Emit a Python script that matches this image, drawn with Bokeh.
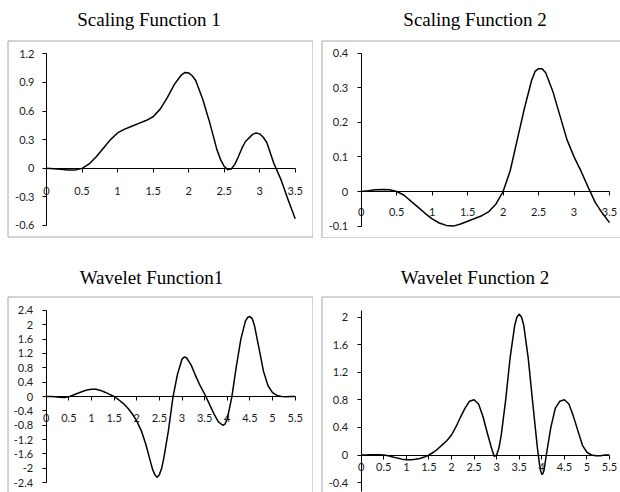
from bokeh.plotting import figure
from bokeh.layouts import column, row
from bokeh.models import FixedTicker, Label, BoxAnnotation
from bokeh.embed import file_html
from bokeh.resources import INLINE

# ---------------- data ----------------
titles = ["Scaling Function 1", "Scaling Function 2", "Wavelet Function1", "Wavelet Function 2"]

sf1_x = [0, 0.1, 0.2, 0.3, 0.4, 0.5, 0.6, 0.7, 0.8, 0.9, 1.0, 1.1, 1.2, 1.3, 1.4, 1.5, 1.6, 1.7,
         1.8, 1.85, 1.9, 1.95, 2.0, 2.05, 2.1, 2.2, 2.3, 2.4, 2.45, 2.5, 2.55, 2.6, 2.65, 2.7,
         2.75, 2.8, 2.9, 2.95, 3.0, 3.05, 3.1, 3.2, 3.3, 3.4, 3.5]
sf1_y = [0, -0.005, -0.012, -0.019, -0.02, -0.002, 0.045, 0.12, 0.21, 0.30, 0.37, 0.41, 0.44,
         0.47, 0.50, 0.54, 0.62, 0.74, 0.88, 0.93, 0.98, 1.005, 1.0, 0.97, 0.92, 0.72, 0.47,
         0.19, 0.09, 0.02, -0.015, -0.008, 0.04, 0.12, 0.21, 0.28, 0.355, 0.37, 0.36, 0.325,
         0.27, 0.05, -0.12, -0.33, -0.53]

sf2_x = [0, 0.1, 0.2, 0.3, 0.4, 0.5, 0.6, 0.7, 0.8, 0.9, 1.0, 1.1, 1.2, 1.3, 1.4, 1.5, 1.6, 1.7,
         1.8, 1.9, 2.0, 2.1, 2.2, 2.3, 2.4, 2.45, 2.5, 2.55, 2.6, 2.7, 2.8, 2.9, 3.0, 3.1, 3.2,
         3.3, 3.4, 3.5]
sf2_y = [0, 0.002, 0.005, 0.006, 0.005, 0.0, -0.01, -0.028, -0.045, -0.063, -0.079, -0.091,
         -0.098, -0.1, -0.094, -0.086, -0.078, -0.07, -0.058, -0.036, 0.0, 0.06, 0.15, 0.24,
         0.32, 0.347, 0.355, 0.355, 0.343, 0.29, 0.22, 0.15, 0.1, 0.058, 0.012, -0.032,
         -0.063, -0.09]

wf1_x = [0, 0.1, 0.2, 0.3, 0.4, 0.5, 0.6, 0.7, 0.8, 0.9, 1.0, 1.1, 1.2, 1.3, 1.4, 1.5, 1.6, 1.7,
         1.8, 1.9, 2.0, 2.1, 2.2, 2.3, 2.35, 2.4, 2.45, 2.5, 2.55, 2.6, 2.7, 2.8, 2.9, 3.0, 3.05,
         3.1, 3.2, 3.3, 3.4, 3.5, 3.6, 3.7, 3.8, 3.9, 3.95, 4.0, 4.1, 4.2, 4.3, 4.4, 4.45, 4.5,
         4.55, 4.6, 4.7, 4.8, 4.9, 5.0, 5.1, 5.2, 5.3, 5.4, 5.5]
wf1_y = [0, 0, -0.005, -0.02, -0.03, -0.01, 0.04, 0.09, 0.14, 0.18, 0.2, 0.2, 0.17, 0.12, 0.06,
         0.0, -0.09, -0.19, -0.32, -0.48, -0.68, -0.95, -1.33, -1.8, -2.03, -2.18, -2.25, -2.18,
         -2.0, -1.7, -0.95, -0.02, 0.62, 1.04, 1.1, 1.08, 0.88, 0.58, 0.3, 0.07, -0.2, -0.47,
         -0.7, -0.8, -0.77, -0.62, -0.02, 0.84, 1.6, 2.1, 2.2, 2.23, 2.17, 1.98, 1.35, 0.7, 0.3,
         0.11, 0.03, 0.0, -0.01, 0, 0]

wf2_x = [0, 0.1, 0.2, 0.3, 0.4, 0.5, 0.6, 0.7, 0.8, 0.9, 1.0, 1.1, 1.2, 1.3, 1.4, 1.5, 1.6, 1.7,
         1.8, 1.9, 2.0, 2.1, 2.2, 2.3, 2.4, 2.5, 2.6, 2.7, 2.8, 2.9, 2.95, 3.0, 3.05, 3.1, 3.2,
         3.3, 3.4, 3.45, 3.5, 3.55, 3.6, 3.7, 3.8, 3.9, 3.95, 3.975, 4.0, 4.025, 4.05, 4.1, 4.2,
         4.3, 4.4, 4.5, 4.6, 4.7, 4.8, 4.9, 5.0, 5.1, 5.2, 5.3, 5.4, 5.5]
wf2_y = [0, 0, 0.003, 0.005, 0.003, 0, -0.012, -0.028, -0.045, -0.06, -0.068, -0.068, -0.062,
         -0.05, -0.03, 0.0, 0.04, 0.09, 0.15, 0.21, 0.29, 0.41, 0.55, 0.68, 0.78, 0.8, 0.74,
         0.55, 0.3, 0.07, -0.02, 0.0, 0.1, 0.28, 0.8, 1.42, 1.88, 2.0, 2.04, 2.0, 1.88, 1.4,
         0.75, 0.12, -0.14, -0.23, -0.28, -0.27, -0.22, 0.0, 0.4, 0.68, 0.78, 0.8, 0.74, 0.56,
         0.35, 0.14, 0.04, 0.0, -0.01, -0.01, 0, 0]

sf_xticks = [0, 0.5, 1, 1.5, 2, 2.5, 3, 3.5]
sf_xlabels = ["0", "0.5", "1", "1.5", "2", "2.5", "3", "3.5"]
wf_xticks = [0, 0.5, 1, 1.5, 2, 2.5, 3, 3.5, 4, 4.5, 5, 5.5]
wf_xlabels = ["0", "0.5", "1", "1.5", "2", "2.5", "3", "3.5", "4", "4.5", "5", "5.5"]

sf1_yticks = [-0.6, -0.3, 0, 0.3, 0.6, 0.9, 1.2]
sf1_ylabels = ["-0.6", "-0.3", "0", "0.3", "0.6", "0.9", "1.2"]
sf2_yticks = [-0.1, 0, 0.1, 0.2, 0.3, 0.4]
sf2_ylabels = ["-0.1", "0", "0.1", "0.2", "0.3", "0.4"]
wf1_yticks = [-2.4, -2, -1.6, -1.2, -0.8, -0.4, 0, 0.4, 0.8, 1.2, 1.6, 2, 2.4]
wf1_ylabels = ["-2.4", "-2", "-1.6", "-1.2", "-0.8", "-0.4", "0", "0.4", "0.8", "1.2", "1.6",
               "2", "2.4"]
wf2_yticks = [-0.4, 0, 0.4, 0.8, 1.2, 1.6, 2]
wf2_ylabels = ["-0.4", "0", "0.4", "0.8", "1.2", "1.6", "2"]

TICK_FONT = "Lato"
TICK_SIZE = "11px"
TICK_COLOR = "#1a1a1a"
TITLE_FONT = "Liberation Serif"
TITLE_SIZE = "19px"
BOX_COLOR = "#a6a6a6"


def panel(title, xs, ys, xticks, xlabels, yticks, ylabels, xbounds, ybounds,
          width, height, origin_px, ppu, title_px, box_px, x_standoff, y_standoff):
    """origin_px / ppu / title_px / box_px are canvas-pixel layout settings."""
    ox, oy = origin_px
    ux, uy = ppu
    to_x = lambda px: (px - ox) / ux
    to_y = lambda py: (oy - py) / uy

    p = figure(width=width, height=height,
               x_range=(to_x(0), to_x(width)), y_range=(to_y(height), to_y(0)),
               output_backend="svg", toolbar_location=None,
               min_border_left=0, min_border_right=0, min_border_bottom=0,
               min_border_top=0)
    p.background_fill_color = "white"
    p.border_fill_color = "white"
    p.outline_line_color = None
    p.xgrid.visible = False
    p.ygrid.visible = False

    bl, bt, br, bb = box_px
    p.add_layout(BoxAnnotation(left=to_x(bl), right=to_x(br), top=to_y(bt), bottom=to_y(bb),
                               fill_color=None, fill_alpha=0, line_color=BOX_COLOR,
                               line_alpha=1.0, line_width=1, level="underlay"))

    for ax, ticks, labels, bounds, standoff in (
            (p.xaxis[0], xticks, xlabels, xbounds, x_standoff),
            (p.yaxis[0], yticks, ylabels, ybounds, y_standoff)):
        ax.fixed_location = 0
        ax.ticker = FixedTicker(ticks=ticks)
        ax.major_label_overrides = dict(zip(ticks, labels))
        ax.bounds = bounds
        ax.axis_line_color = "black"
        ax.axis_line_width = 1
        ax.major_tick_line_color = "black"
        ax.major_tick_in = 0
        ax.major_tick_out = 4
        ax.minor_tick_line_color = None
        ax.major_label_standoff = standoff
        ax.major_label_text_font = TICK_FONT
        ax.major_label_text_font_size = TICK_SIZE
        ax.major_label_text_color = TICK_COLOR

    p.line(xs, ys, line_color="black", line_width=1.5, line_join="round")

    tx, ty = title_px
    p.add_layout(Label(x=to_x(tx), y=to_y(ty), text=title,
                       text_align="center", text_baseline="alphabetic",
                       text_font=TITLE_FONT, text_font_size=TITLE_SIZE,
                       text_color="black"))
    return p


# canvas pixel geometry: columns start at page x 0 and 313, rows at page y 0 and 238
p1 = panel(titles[0], sf1_x, sf1_y, sf_xticks, sf_xlabels, sf1_yticks, sf1_ylabels,
           (0, 3.5), (-0.6, 1.2), 313, 238,
           (46, 167.7), (71.06, 95.3), (148.5, 18.5), (7.5, 40.5, 312.5, 236.5), 15, 8)
p2 = panel(titles[1], sf2_x, sf2_y, sf_xticks, sf_xlabels, sf2_yticks, sf2_ylabels,
           (0, 3.5), (-0.1, 0.4), 307, 238,
           (47.7, 191), (70.95, 346), (161.6, 18.5), (8.5, 40.5, 312, 237.5), 12, 9)
p3 = panel(titles[2], wf1_x, wf1_y, wf_xticks, wf_xlabels, wf1_yticks, wf1_ylabels,
           (0, 5.5), (-2.4, 2.4), 313, 254,
           (45.7, 158), (45.27, 35.9), (151, 39), (7.5, 58.5, 312.5, 270), 13, 9)
p4 = panel(titles[3], wf2_x, wf2_y, wf_xticks, wf_xlabels, wf2_yticks, wf2_ylabels,
           (0, 5.5), (-0.53, 2.1), 307, 254,
           (47.7, 216.5), (45.15, 69), (161.5, 39), (8.5, 58.5, 312, 270), 4, 9)

layout = column(row(p1, p2, spacing=0), row(p3, p4, spacing=0), spacing=0)

open("out.html", "w").write(file_html(layout, INLINE))
